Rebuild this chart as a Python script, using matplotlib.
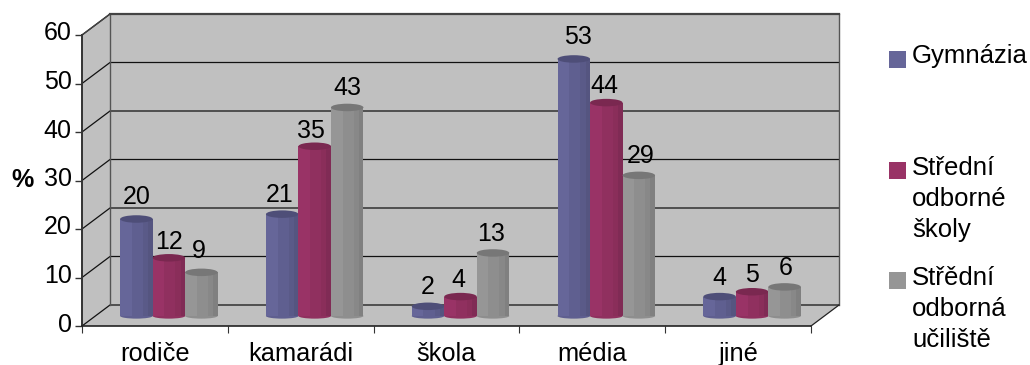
import matplotlib
matplotlib.use("Agg")
import matplotlib.pyplot as plt
from matplotlib.patches import Ellipse, Polygon, Rectangle
from matplotlib.transforms import ScaledTranslation

plt.rcParams["font.family"] = ["Liberation Sans", "DejaVu Sans"]

categories = ["rodiče", "kamarádi", "škola", "média", "jiné"]
gymnazia = [20, 21, 2, 53, 4]
stredni_skoly = [12, 35, 4, 44, 5]
stredni_uciliste = [9, 43, 13, 29, 6]
y_ticks = [0, 10, 20, 30, 40, 50, 60]

series = [gymnazia, stredni_skoly, stredni_uciliste]
legend_labels = ["Gymnázia", "Střední\nodborné\nškoly", "Střědní\nodborná\nučiliště"]
# shades per series: side facets from light to dark, then the cap
shades = [
    ["#666699", "#5F5F90", "#5A5A88", "#555580", "#4E4E78"],
    ["#993366", "#90305F", "#8A2E5A", "#802B55", "#7A2850"],
    ["#969696", "#8E8E8E", "#888888", "#808080", "#777777"],
]
facets = [0.0, 0.36, 0.70, 0.86, 1.0]

# hand placement of the value labels relative to their cylinders, in pixels
label_nudge_x = [
    [0, -3, 0, 4, 0],
    [0, -4, -2, -2, 0],
    [-3, 0, -2, 2, 1],
]
label_nudge_y = [
    [3, 0, 0, 3, 0],
    [-3, -4, -2, -2, -2],
    [2, 0, 0, 0, 0],
]

W, H = 1030, 365
fig = plt.figure(figsize=(W / 100, H / 100), dpi=100, facecolor="white")
ax = fig.add_axes([82 / W, (H - 326) / H, (811 - 82) / W, (326 - 35) / H])
ax.set_xlim(0, 5)
ax.set_ylim(0, 60)
ax.patch.set_visible(False)

px_x = 5 / 729
px_y = 60 / 291
depth_x = 28 * px_x
depth_y = 21 * px_y

WALL = "#C0C0C0"
LINE = "#111111"

# walls and floor of the box
back = [(depth_x, depth_y), (5 + depth_x, depth_y), (5 + depth_x, 60 + depth_y), (depth_x, 60 + depth_y)]
side = [(0, 0), (depth_x, depth_y), (depth_x, 60 + depth_y), (0, 60)]
floor = [(0, 0), (5, 0), (5 + depth_x, depth_y), (depth_x, depth_y)]
ax.add_patch(Polygon(back, fc=WALL, ec="none", zorder=0, clip_on=False))
ax.add_patch(Polygon(side, fc=WALL, ec="none", zorder=0, clip_on=False))
ax.add_patch(Polygon(floor, fc=WALL, ec="none", zorder=0, clip_on=False))

for v in y_ticks:
    ax.plot([0, depth_x, 5 + depth_x], [v, v + depth_y, v + depth_y], color=LINE, lw=0.9,
            zorder=1, clip_on=False, solid_joinstyle="miter")
ax.plot([depth_x, depth_x], [depth_y, 60 + depth_y], color="#555555", lw=1.0, zorder=1, clip_on=False)
ax.plot([5 + depth_x, 5 + depth_x], [depth_y, 60 + depth_y], color="#555555", lw=1.0, zorder=1, clip_on=False)
ax.plot([depth_x, 5 + depth_x], [60 + depth_y, 60 + depth_y], color="#444444", lw=1.6, zorder=1, clip_on=False)
ax.plot([0, depth_x], [60, 60 + depth_y], color="#444444", lw=1.0, zorder=1, clip_on=False)
ax.plot([5, 5 + depth_x], [0, depth_y], color="#222222", lw=0.9, zorder=1, clip_on=False)

# cylinders
bar_w = 32.5 * px_x
base = 10 * px_y
cap_h = 7.5 * px_y
group_shift = 14 * px_x
for s, values in enumerate(series):
    for c, value in enumerate(values):
        center = c + 0.5 + group_shift + (s - 1) * bar_w
        left = center - bar_w / 2
        z = 3 + s + c * 0.01
        ax.add_patch(Ellipse((center, base), bar_w, cap_h * 0.7, fc=shades[s][1], ec="none", zorder=z, clip_on=False))
        for f in range(len(facets) - 1):
            ax.bar(left + facets[f] * bar_w, value, width=(facets[f + 1] - facets[f]) * bar_w, bottom=base,
                   align="edge", color=shades[s][f], linewidth=0, zorder=z, clip_on=False)
        ax.add_patch(Ellipse((center, base + value), bar_w, cap_h, fc=shades[s][4], ec="none", zorder=z + 0.1, clip_on=False))
        offset = (label_nudge_x[s][c] * 0.72, 13.7 + label_nudge_y[s][c] * 0.72)
        ax.annotate(str(value), (center, base + value), xytext=offset, textcoords="offset points",
                    ha="center", va="center", fontsize=18, color="black", zorder=10, annotation_clip=False)

# axes, ticks and tick labels
for name in ("top", "right"):
    ax.spines[name].set_visible(False)
ax.spines["left"].set_color("#333333")
ax.spines["left"].set_linewidth(1.4)
ax.spines["bottom"].set_color("#222222")
ax.spines["bottom"].set_linewidth(1.2)
ax.set_yticks(y_ticks)
ax.tick_params(axis="y", length=5, width=1.0, color="#333333", labelsize=18, pad=2.5)
for label in ax.get_yticklabels():
    label.set_transform(label.get_transform() + ScaledTranslation(0, 4 / 100, fig.dpi_scale_trans))
ax.set_xticks(range(6))
ax.set_xticklabels([])
ax.tick_params(axis="x", which="major", length=5, width=0.8, color="#333333")
ax.set_xticks([i + 0.5 for i in range(5)], minor=True)
ax.set_xticklabels(categories, minor=True, fontsize=18.3)
ax.tick_params(axis="x", which="minor", length=0, pad=11.5)

fig.text(22 / W, (H - 180) / H, "%", fontsize=18, fontweight="bold", ha="center", va="center")

# legend, laid out by hand because entries wrap over several lines
swatch_tops = [51, 162, 272]
text_tops = [44, 156, 266]
for s, label in enumerate(legend_labels):
    fig.add_artist(Rectangle((889 / W, (H - swatch_tops[s] - 17) / H), 17 / W, 17 / H,
                             transform=fig.transFigure, fc=shades[s][0], ec="none"))
    fig.text(912 / W, (H - text_tops[s]) / H, label, fontsize=18.5, ha="left", va="top", linespacing=1.37)

fig.savefig("out.png", dpi=100, facecolor="white")
